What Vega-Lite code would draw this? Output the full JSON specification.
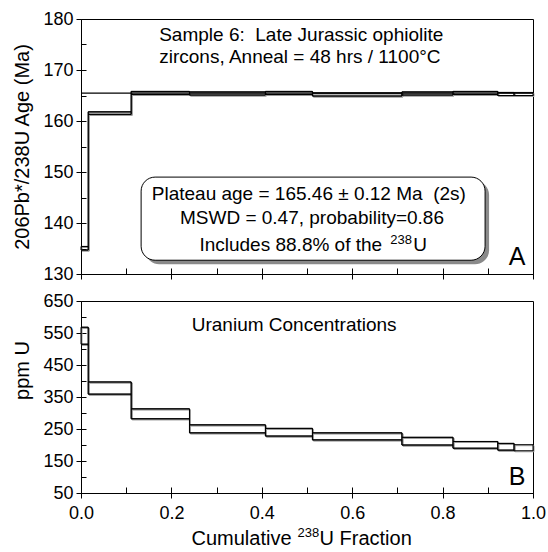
{
  "$schema": "https://vega.github.io/schema/vega-lite/v6.json",
  "padding": {"left": 12, "top": 9, "right": 5, "bottom": 2},
  "background": "white",
  "spacing": 27,
  "bounds": "flush",
  "config": {
    "view": {"stroke": "black", "strokeWidth": 1},
    "font": "Liberation Sans",
    "axis": {
      "domainColor": "black", "tickColor": "black", "labelColor": "black",
      "titleColor": "black", "labelFont": "Liberation Sans", "titleFont": "Liberation Sans",
      "labelFontSize": 18, "titleFontSize": 20, "titleFontWeight": "normal",
      "grid": false, "tickWidth": 1, "domainWidth": 1, "labelFlush": false
    },
    "text": {"font": "Liberation Sans", "fontSize": 19, "color": "black"}
  },
  "datasets": {
    "age": [
      {"x0": 0, "x1": 0.016, "lo": 134.7, "hi": 135.4},
      {"x0": 0.016, "x1": 0.111, "lo": 161.3, "hi": 161.8},
      {"x0": 0.111, "x1": 0.24, "lo": 165.2, "hi": 165.8},
      {"x0": 0.24, "x1": 0.408, "lo": 165.1, "hi": 165.7},
      {"x0": 0.408, "x1": 0.512, "lo": 165.2, "hi": 165.8},
      {"x0": 0.512, "x1": 0.71, "lo": 164.9, "hi": 165.5},
      {"x0": 0.71, "x1": 0.823, "lo": 165.1, "hi": 165.7},
      {"x0": 0.823, "x1": 0.922, "lo": 165.2, "hi": 165.8},
      {"x0": 0.922, "x1": 0.958, "lo": 165.0, "hi": 165.6},
      {"x0": 0.958, "x1": 1.0, "lo": 165.0, "hi": 165.6}
    ],
    "ppm": [
      {"x0": 0, "x1": 0.016, "lo": 515, "hi": 568},
      {"x0": 0.016, "x1": 0.111, "lo": 359, "hi": 397},
      {"x0": 0.111, "x1": 0.24, "lo": 282, "hi": 313},
      {"x0": 0.24, "x1": 0.408, "lo": 238, "hi": 263},
      {"x0": 0.408, "x1": 0.512, "lo": 228, "hi": 252},
      {"x0": 0.512, "x1": 0.71, "lo": 216, "hi": 238},
      {"x0": 0.71, "x1": 0.823, "lo": 200, "hi": 224},
      {"x0": 0.823, "x1": 0.922, "lo": 190, "hi": 211},
      {"x0": 0.922, "x1": 0.958, "lo": 184, "hi": 205},
      {"x0": 0.958, "x1": 1.0, "lo": 182, "hi": 201}
    ],
    "one": [{}]
  },
  "vconcat": [
    {
      "width": 452,
      "height": 255,
      "resolve": {"axis": {"x": "independent", "y": "independent"}},
      "layer": [
        {
          "data": {"name": "age"},
          "mark": {"type": "rect", "fill": null, "fillOpacity": 0, "stroke": "#999", "strokeWidth": 1, "xOffset": 1, "yOffset": 1, "x2Offset": 1, "y2Offset": 1},
          "encoding": {
            "x": {"field": "x0", "type": "quantitative", "scale": {"domain": [0, 1], "nice": false},
                  "axis": {"orient": "bottom", "values": [0, 0.2, 0.4, 0.6, 0.8, 1.0], "labels": false, "title": null, "tickSize": 5}},
            "x2": {"field": "x1"},
            "y": {"field": "lo", "type": "quantitative", "scale": {"domain": [130, 180], "nice": false, "zero": false},
                  "axis": {"orient": "left", "values": [130, 140, 150, 160, 170, 180], "title": "206Pb*/238U Age (Ma)", "tickSize": 5, "labelPadding": 3, "titlePadding": 10}},
            "y2": {"field": "hi"}
          }
        },
        {
          "data": {"name": "age"},
          "mark": {"type": "line", "interpolate": "step-after", "stroke": "#999", "strokeWidth": 1, "xOffset": 1, "yOffset": 1},
          "encoding": {
            "x": {"field": "x0", "type": "quantitative",
                  "axis": {"orient": "bottom", "values": [0, 0.1, 0.2, 0.3, 0.4, 0.5, 0.6, 0.7, 0.8, 0.9, 1.0], "labels": false, "domain": false, "title": null, "tickSize": -6}},
            "y": {"field": "hi", "type": "quantitative",
                  "axis": {"orient": "left", "values": [130, 135, 140, 145, 150, 155, 160, 165, 170, 175, 180], "labels": false, "domain": false, "title": null, "tickSize": -5}}
          }
        },
        {
          "data": {"name": "age"},
          "mark": {"type": "line", "interpolate": "step-after", "stroke": "#999", "strokeWidth": 1, "xOffset": 1, "yOffset": 1},
          "encoding": {
            "x": {"field": "x0", "type": "quantitative", "axis": null},
            "y": {"field": "lo", "type": "quantitative", "axis": null}
          }
        },
        {
          "data": {"name": "age"},
          "mark": {"type": "rect", "fill": null, "fillOpacity": 0, "stroke": "black", "strokeWidth": 1},
          "encoding": {
            "x": {"field": "x0", "type": "quantitative", "axis": null},
            "x2": {"field": "x1"},
            "y": {"field": "lo", "type": "quantitative", "axis": null},
            "y2": {"field": "hi"}
          }
        },
        {
          "data": {"name": "age"},
          "mark": {"type": "line", "interpolate": "step-after", "stroke": "black", "strokeWidth": 1},
          "encoding": {
            "x": {"field": "x0", "type": "quantitative", "axis": null},
            "y": {"field": "hi", "type": "quantitative", "axis": null}
          }
        },
        {
          "data": {"name": "age"},
          "mark": {"type": "line", "interpolate": "step-after", "stroke": "black", "strokeWidth": 1},
          "encoding": {
            "x": {"field": "x0", "type": "quantitative", "axis": null},
            "y": {"field": "lo", "type": "quantitative", "axis": null}
          }
        },
        {
          "data": {"name": "one"},
          "mark": {"type": "rule", "stroke": "black", "strokeWidth": 1.3},
          "encoding": {"y": {"datum": 165.46, "type": "quantitative", "axis": null}}
        },
        {
          "data": {"name": "one"},
          "mark": {"type": "rect", "fill": "#8a8a8a", "stroke": null, "cornerRadius": 14, "xOffset": 4, "yOffset": 4, "x2Offset": 4, "y2Offset": 4},
          "encoding": {
            "x": {"datum": 0.133, "type": "quantitative", "axis": null}, "x2": {"datum": 0.894},
            "y": {"datum": 149.0, "type": "quantitative", "axis": null}, "y2": {"datum": 132.7}
          }
        },
        {
          "data": {"name": "one"},
          "mark": {"type": "rect", "fill": "white", "stroke": "black", "strokeWidth": 1, "cornerRadius": 14},
          "encoding": {
            "x": {"datum": 0.133, "type": "quantitative", "axis": null}, "x2": {"datum": 0.894},
            "y": {"datum": 149.0, "type": "quantitative", "axis": null}, "y2": {"datum": 132.7}
          }
        },
        {
          "data": {"name": "one"},
          "mark": {"type": "text", "align": "center", "baseline": "alphabetic", "text": "Plateau age = 165.46 ± 0.12 Ma\u00a0 (2s)"},
          "encoding": {"x": {"datum": 0.504, "type": "quantitative", "axis": null}, "y": {"datum": 144.5, "type": "quantitative", "axis": null}}
        },
        {
          "data": {"name": "one"},
          "mark": {"type": "text", "align": "center", "baseline": "alphabetic", "text": "MSWD = 0.47, probability=0.86"},
          "encoding": {"x": {"datum": 0.511, "type": "quantitative", "axis": null}, "y": {"datum": 139.8, "type": "quantitative", "axis": null}}
        },
        {
          "data": {"name": "one"},
          "mark": {"type": "text", "align": "right", "baseline": "alphabetic", "dx": -8, "text": "Includes 88.8% of the"},
          "encoding": {"x": {"datum": 0.684, "type": "quantitative", "axis": null}, "y": {"datum": 134.6, "type": "quantitative", "axis": null}}
        },
        {
          "data": {"name": "one"},
          "mark": {"type": "text", "align": "left", "baseline": "alphabetic", "fontSize": 13, "dy": -7, "text": "238"},
          "encoding": {"x": {"datum": 0.684, "type": "quantitative", "axis": null}, "y": {"datum": 134.6, "type": "quantitative", "axis": null}}
        },
        {
          "data": {"name": "one"},
          "mark": {"type": "text", "align": "left", "baseline": "alphabetic", "dx": 23, "text": "U"},
          "encoding": {"x": {"datum": 0.684, "type": "quantitative", "axis": null}, "y": {"datum": 134.6, "type": "quantitative", "axis": null}}
        },
        {
          "data": {"name": "one"},
          "mark": {"type": "text", "align": "left", "baseline": "alphabetic", "text": "Sample 6:\u00a0 Late Jurassic ophiolite"},
          "encoding": {"x": {"datum": 0.173, "type": "quantitative", "axis": null}, "y": {"datum": 175.75, "type": "quantitative", "axis": null}}
        },
        {
          "data": {"name": "one"},
          "mark": {"type": "text", "align": "left", "baseline": "alphabetic", "text": "zircons, Anneal = 48 hrs / 1100°C"},
          "encoding": {"x": {"datum": 0.173, "type": "quantitative", "axis": null}, "y": {"datum": 171.3, "type": "quantitative", "axis": null}}
        },
        {
          "data": {"name": "one"},
          "mark": {"type": "text", "align": "right", "baseline": "alphabetic", "fontSize": 25, "text": "A"},
          "encoding": {"x": {"datum": 0.983, "type": "quantitative", "axis": null}, "y": {"datum": 131.8, "type": "quantitative", "axis": null}}
        }
      ]
    },
    {
      "width": 452,
      "height": 192,
      "resolve": {"axis": {"x": "independent", "y": "independent"}},
      "layer": [
        {
          "data": {"name": "ppm"},
          "mark": {"type": "rect", "fill": null, "fillOpacity": 0, "stroke": "#999", "strokeWidth": 1, "xOffset": 1, "yOffset": 1, "x2Offset": 1, "y2Offset": 1},
          "encoding": {
            "x": {"field": "x0", "type": "quantitative", "scale": {"domain": [0, 1], "nice": false},
                  "axis": {"orient": "bottom", "values": [0, 0.2, 0.4, 0.6, 0.8, 1.0], "format": ".1f", "title": null, "tickSize": 5, "labelPadding": 6}},
            "x2": {"field": "x1"},
            "y": {"field": "lo", "type": "quantitative", "scale": {"domain": [50, 650], "nice": false, "zero": false},
                  "axis": {"orient": "left", "values": [50, 150, 250, 350, 450, 550, 650], "title": "ppm U", "titleY": 69, "tickSize": 5, "labelPadding": 3, "titlePadding": 10}},
            "y2": {"field": "hi"}
          }
        },
        {
          "data": {"name": "ppm"},
          "mark": {"type": "line", "interpolate": "step-after", "stroke": "#999", "strokeWidth": 1, "xOffset": 1, "yOffset": 1},
          "encoding": {
            "x": {"field": "x0", "type": "quantitative",
                  "axis": {"orient": "bottom", "values": [0, 0.1, 0.2, 0.3, 0.4, 0.5, 0.6, 0.7, 0.8, 0.9, 1.0], "labels": false, "domain": false, "title": null, "tickSize": -6}},
            "y": {"field": "hi", "type": "quantitative",
                  "axis": {"orient": "left", "values": [50, 100, 150, 200, 250, 300, 350, 400, 450, 500, 550, 600, 650], "labels": false, "domain": false, "title": null, "tickSize": -5}}
          }
        },
        {
          "data": {"name": "ppm"},
          "mark": {"type": "line", "interpolate": "step-after", "stroke": "#999", "strokeWidth": 1, "xOffset": 1, "yOffset": 1},
          "encoding": {
            "x": {"field": "x0", "type": "quantitative", "axis": null},
            "y": {"field": "lo", "type": "quantitative", "axis": null}
          }
        },
        {
          "data": {"name": "ppm"},
          "mark": {"type": "rect", "fill": null, "fillOpacity": 0, "stroke": "black", "strokeWidth": 1},
          "encoding": {
            "x": {"field": "x0", "type": "quantitative", "axis": null},
            "x2": {"field": "x1"},
            "y": {"field": "lo", "type": "quantitative", "axis": null},
            "y2": {"field": "hi"}
          }
        },
        {
          "data": {"name": "ppm"},
          "mark": {"type": "line", "interpolate": "step-after", "stroke": "black", "strokeWidth": 1},
          "encoding": {
            "x": {"field": "x0", "type": "quantitative", "axis": null},
            "y": {"field": "hi", "type": "quantitative", "axis": null}
          }
        },
        {
          "data": {"name": "ppm"},
          "mark": {"type": "line", "interpolate": "step-after", "stroke": "black", "strokeWidth": 1},
          "encoding": {
            "x": {"field": "x0", "type": "quantitative", "axis": null},
            "y": {"field": "lo", "type": "quantitative", "axis": null}
          }
        },
        {
          "data": {"name": "one"},
          "mark": {"type": "text", "align": "left", "baseline": "alphabetic", "text": "Uranium Concentrations"},
          "encoding": {"x": {"datum": 0.245, "type": "quantitative", "axis": null}, "y": {"datum": 557, "type": "quantitative", "axis": null}}
        },
        {
          "data": {"name": "one"},
          "mark": {"type": "text", "align": "right", "baseline": "alphabetic", "fontSize": 25, "text": "B"},
          "encoding": {"x": {"datum": 0.983, "type": "quantitative", "axis": null}, "y": {"datum": 75, "type": "quantitative", "axis": null}}
        },
        {
          "data": {"name": "one"},
          "mark": {"type": "text", "align": "right", "baseline": "alphabetic", "fontSize": 20, "dx": -6, "text": "Cumulative"},
          "encoding": {"x": {"datum": 0.479, "type": "quantitative", "axis": null}, "y": {"datum": -112.5, "type": "quantitative", "axis": null}}
        },
        {
          "data": {"name": "one"},
          "mark": {"type": "text", "align": "left", "baseline": "alphabetic", "fontSize": 13, "dy": -8, "text": "238"},
          "encoding": {"x": {"datum": 0.479, "type": "quantitative", "axis": null}, "y": {"datum": -112.5, "type": "quantitative", "axis": null}}
        },
        {
          "data": {"name": "one"},
          "mark": {"type": "text", "align": "left", "baseline": "alphabetic", "fontSize": 20, "dx": 22, "text": "U Fraction"},
          "encoding": {"x": {"datum": 0.479, "type": "quantitative", "axis": null}, "y": {"datum": -112.5, "type": "quantitative", "axis": null}}
        }
      ]
    }
  ]
}
